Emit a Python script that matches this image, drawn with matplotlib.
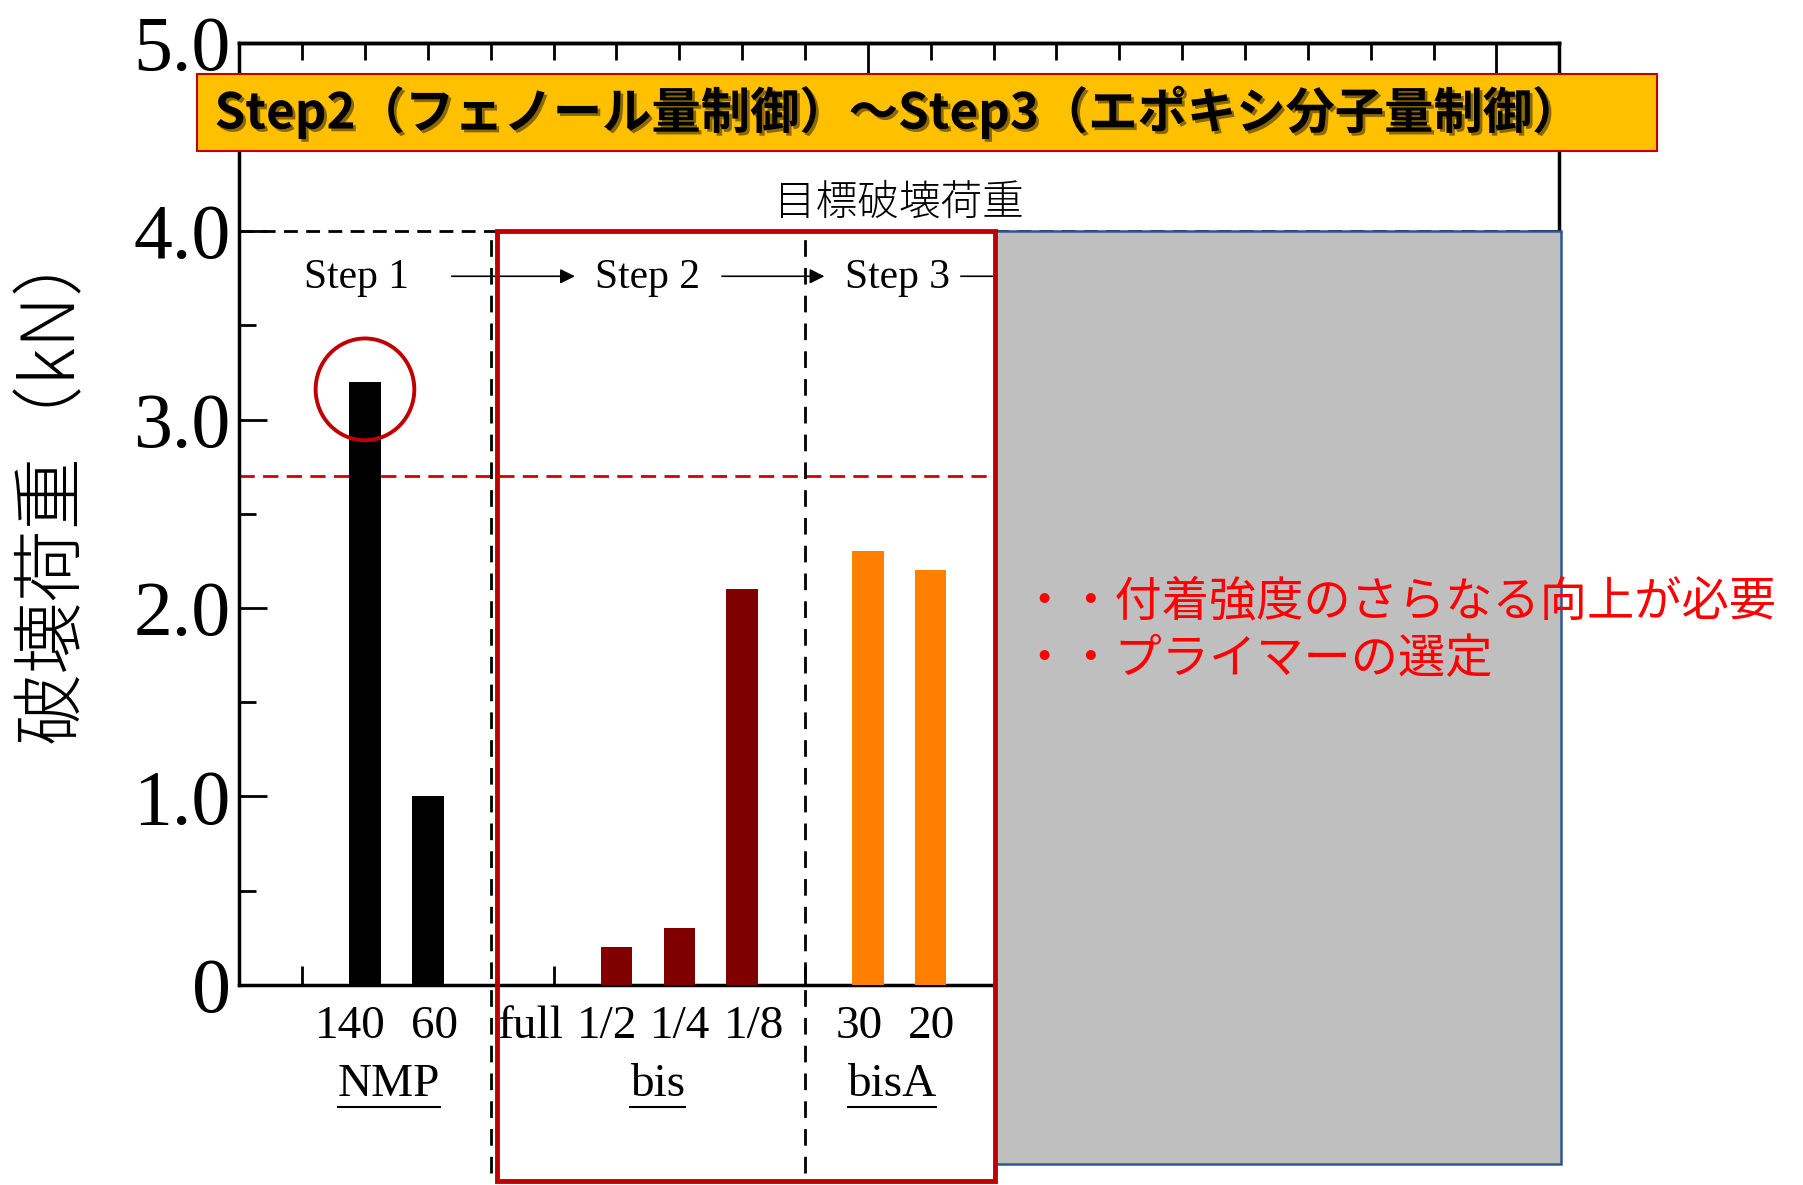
import matplotlib
matplotlib.use('Agg')
import matplotlib.pyplot as plt
import matplotlib.patheffects as pe
from matplotlib.patches import Rectangle, Ellipse

JP = ['Noto Sans CJK JP', 'DejaVu Sans']
SERIF = ['Liberation Serif', 'DejaVu Serif']

# 試料ごとの破壊荷重 (kN)
categories = ['140', '60', 'full', '1/2', '1/4', '1/8', '30', '20']
loads = [3.2, 1.0, 0.0, 0.2, 0.3, 2.1, 2.3, 2.2]
groups = ['NMP', 'bis', 'bisA']
bar_colors = ['black', 'black', '#800000', '#800000', '#800000', '#800000',
              '#FF8000', '#FF8000']
target_load = 4.0
reference_load = 2.7

# 配置
bar_x = [2, 3, 5, 6, 7, 8, 10, 11]
label_x = [1.77, 3.11, 4.64, 5.85, 7.02, 8.19, 9.87, 11.02]
group_x = [2.38, 6.65, 10.38]
underline_half = [0.81, 0.44, 0.70]

fig = plt.figure(figsize=(18.03, 11.85), dpi=100)
ax = fig.add_axes([0.1327, 0.1688, 0.8648 - 0.1327, 0.9641 - 0.1688])
ax.set_xlim(0, 21)
ax.set_ylim(0, 5)

ax.bar(bar_x, loads, width=0.5, color=bar_colors, zorder=3)

for s in ax.spines.values():
    s.set_linewidth(2.5)

# 目盛り
ax.set_yticks([0, 1, 2, 3, 4, 5])
ax.set_yticklabels(['0', '1.0', '2.0', '3.0', '4.0', '5.0'],
                   family=SERIF, fontsize=56)
ax.set_yticks([0.5, 1.5, 2.5, 3.5, 4.5], minor=True)
ax.tick_params(axis='y', which='major', direction='in', length=20, width=2,
               right=True, pad=6)
ax.tick_params(axis='y', which='minor', direction='in', length=12, width=2,
               right=True)
ax.set_xticks([1, 5, 9, 13, 17])
ax.set_xticklabels([])
ax.tick_params(axis='x', which='major', direction='in', length=14, width=2)

top = ax.secondary_xaxis('top')
top.set_xticks([0, 10, 20])
top.set_xticks(range(1, 21), minor=True)
top.set_xticklabels([])
top.tick_params(which='major', direction='in', length=24, width=2)
top.tick_params(which='minor', direction='in', length=12, width=2)
top.spines['top'].set_linewidth(2.5)

# 目標破壊荷重と基準線
ax.plot([0, 21], [target_load, target_load], color='black', lw=2,
        dashes=(5, 3), zorder=2)
ax.plot([0, 12.03], [reference_load, reference_load], color='#D00000', lw=2,
        dashes=(5.5, 3), zorder=2)
ax.text(10.49, 4.15, '目標破壊荷重', family=JP, fontweight='light',
        fontsize=30, ha='center', va='center')

# 区切りの破線
for xv in (4.0, 9.0):
    ax.plot([xv, xv], [-1.0, target_load], color='black', lw=2,
            dashes=(6, 4), clip_on=False, zorder=2)

# Step 表示
for sx, label in [(1.87, 'Step 1'), (6.49, 'Step 2'), (10.48, 'Step 3')]:
    ax.text(sx, 3.75, label, family=SERIF, fontsize=30,
            ha='center', va='center')
for x0, x1 in [(3.38, 5.34), (7.68, 9.31), (11.48, 13.0)]:
    ax.annotate('', xy=(x1, 3.76), xytext=(x0, 3.76),
                arrowprops=dict(arrowstyle='-|>', color='black', lw=1.2,
                                mutation_scale=22, shrinkA=0, shrinkB=0))

# 横軸ラベル
for lx, lab in zip(label_x, categories):
    ax.text(lx, -0.22, lab, family=SERIF, fontsize=34,
            ha='center', va='center', clip_on=False)
for gx, g, half in zip(group_x, groups, underline_half):
    ax.text(gx, -0.53, g, family=SERIF, fontsize=34,
            ha='center', va='center', clip_on=False)
    ax.plot([gx - half, gx + half], [-0.645, -0.645], color='black', lw=1.5,
            clip_on=False)

# 強調の円
ax.add_patch(Ellipse((2.0, 3.16), 1.57, 0.54, fill=False, edgecolor='#C00000',
                     lw=2.8, zorder=4))

# Step2/3 の枠と伏せた領域
ax.add_patch(Rectangle((12.03, -0.95), 9.0, 4.95, facecolor='#BFBFBF',
                       edgecolor='#2F5597', lw=1.8, clip_on=False, zorder=6))
ax.add_patch(Rectangle((4.1, -1.04), 7.93, 5.04, fill=False,
                       edgecolor='#C00000', lw=3.5, clip_on=False, zorder=7))

# 縦軸ラベル
fig.text(0.029, 0.593, '破壊荷重（kN）', family=JP, fontweight='light',
         fontsize=52, rotation=90, ha='center', va='center')

# 見出しの帯
fig.add_artist(Rectangle((0.1091, 0.8729), 0.81, 0.065,
                         transform=fig.transFigure, facecolor='#FFC000',
                         edgecolor='#C00000', lw=1.5, zorder=10))
fig.text(0.119, 0.9055, 'Step2（フェノール量制御）～Step3（エポキシ分子量制御）',
         family=JP, fontweight='bold', fontsize=35.5, ha='left', va='center',
         zorder=11,
         path_effects=[pe.SimplePatchShadow(offset=(2, -2), alpha=0.45),
                       pe.Normal()])

# コメント
fig.text(0.566, 0.492, '・・付着強度のさらなる向上が必要', family=JP,
         fontsize=34, color='#FF0000', ha='left', va='center', zorder=12)
fig.text(0.566, 0.443, '・・プライマーの選定', family=JP,
         fontsize=34, color='#FF0000', ha='left', va='center', zorder=12)

fig.savefig('out.png', dpi=100)
